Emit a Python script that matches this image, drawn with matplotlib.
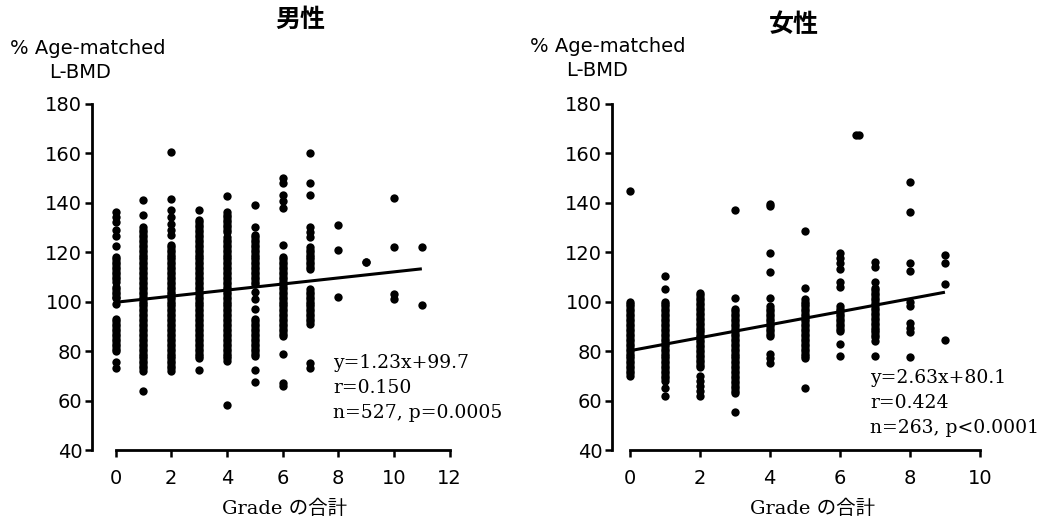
import numpy as np
import matplotlib
matplotlib.use('Agg')
import matplotlib.pyplot as plt

plt.rcParams['font.family'] = ['DejaVu Sans']

W, H = 1061, 532

# ── data: % age-matched L-BMD per Grade total ──
male_grades = [0, 1, 2, 3, 4, 5, 6, 7, 8, 9, 10, 11]
male_bmd = [
    [136, 134, 132, 129, 126.5, 122.5,
     118, 117, 116, 115, 114, 113, 112, 111, 110, 109, 108, 106, 105, 104, 103, 102, 101.5, 99,
     93, 92, 91, 90, 89, 88, 87, 86, 85, 84, 83, 82, 81, 80, 75.5, 73],
    [141, 135,
     130, 129, 128, 127, 126, 125, 124, 123, 122, 121, 120, 119, 118, 117, 116, 115, 114, 113,
     112, 111, 110, 109, 108, 107, 106, 105, 104, 103, 102, 101, 100, 99, 98, 97, 96, 95, 94,
     93, 92, 91, 90, 89, 88, 87, 86, 85, 84, 83, 82, 81, 80, 79, 78, 77, 76, 75, 74, 73, 72, 64],
    [160.5, 141.5, 137, 134, 131.5, 129, 127,
     123, 122, 121, 120, 119, 118, 117, 116, 115, 114, 113, 112, 111, 110, 109, 108, 107, 106,
     105, 104, 103, 102, 101, 100, 99, 98, 97, 96, 95, 94, 93, 92, 91, 90, 89, 88, 87, 86, 85,
     84, 83, 82, 81, 80, 79, 78, 77, 76, 75, 74, 73, 72],
    [137,
     133, 132, 131, 130, 129, 128, 127, 126, 125, 124, 123, 122, 121, 120, 119, 118, 117, 116,
     115, 114, 113, 112, 111, 110, 109, 108, 107, 106, 105, 104, 103, 102, 101, 100, 99, 98, 97,
     96, 95, 94, 93, 92, 91, 90, 89, 88, 87, 86, 85, 84, 83, 82, 81, 80, 79, 78, 77, 72.5],
    [142.5, 136, 135, 134, 133, 132, 131, 130, 129, 128,
     126, 125, 124, 123, 122, 121, 120, 119, 118, 117, 116, 115, 114, 113, 112, 111, 110, 109,
     108, 107, 106, 105, 104, 103, 102, 101, 100, 99, 98, 97, 96, 95, 94, 93, 92, 91, 90, 89,
     88, 87, 86, 85, 84, 83, 82, 81, 80, 79, 78, 77, 76, 58],
    [139, 130,
     127, 126, 125, 124, 123, 122, 121, 120, 119, 118, 117, 116, 115, 114, 113, 112, 111, 110,
     109, 108, 107, 104, 101, 97,
     93, 92, 91, 90, 89, 88, 87, 86, 85, 84, 83, 82, 81, 80, 79, 78, 72.5, 67.5],
    [150, 148, 143, 140.5, 138, 123,
     118, 117, 116, 115, 114, 113, 112, 111, 110, 109, 108, 107, 106, 105, 104, 103, 102, 101,
     100, 99, 98, 97, 96, 95, 94, 93, 92, 91, 90, 89, 88, 87, 86, 79, 67, 66],
    [160, 148, 143, 130, 128, 126,
     122, 121, 120, 119, 118, 117, 116, 115, 114, 113,
     105, 104, 103, 102, 101, 100, 99, 98, 97, 96, 95, 94, 93, 92, 91, 75, 73],
    [131, 121, 102],
    [116, 116],
    [142, 122, 103, 101],
    [122, 98.5],
]

female_grades = [0, 1, 2, 3, 4, 5, 6, 7, 8, 9]
female_bmd = [
    [144.5,
     100, 99, 98, 97, 96, 95, 94, 93, 92, 91, 90, 89, 88, 87, 86, 85, 84, 83, 82, 81, 80, 79,
     78, 77, 76, 75, 74, 73, 72, 71, 70],
    [110.5, 105,
     100, 99, 98, 97, 96, 95, 94, 93, 92, 91, 90, 89, 88, 87, 86, 85, 84, 83, 82, 81, 80, 79,
     78, 77, 76, 75, 74, 73, 72, 71, 70, 69, 68, 65, 62],
    [103.5, 102.5, 101.5, 100.5, 99.5, 98.5, 97.5, 96.5, 95.5, 94.5, 93.5, 92.5, 91.5, 90.5,
     89.5, 88.5, 87.5, 86.5, 85.5, 84.5, 83.5, 82.5, 81.5, 80.5, 79.5, 78.5, 77.5, 76.5, 75.5,
     74.5, 73.5, 70, 68, 66, 64, 62],
    [137, 101.5,
     97, 96, 95, 94, 93, 92, 91, 90, 89, 88, 87, 86, 85, 84, 83, 82, 81, 80, 79, 78, 77, 76,
     75, 74, 73, 72, 71, 70, 69, 68, 67, 66, 65, 64, 63, 55.5],
    [139.5, 138.5, 119.5, 112, 101.5,
     98, 97, 96, 95, 94, 93, 92, 91, 90, 89, 88, 87, 86, 79, 77, 75],
    [128.5, 105.5,
     101, 100, 99, 98, 97, 96, 95, 94, 93, 92, 91, 90, 89, 88, 87, 86, 85, 84, 83, 82, 81, 80,
     79, 78, 77, 65],
    [119.5, 117.5, 115.5, 113, 108, 106,
     98, 97, 96, 95, 94, 93, 92, 91, 90, 89, 88, 83, 78],
    [116, 114, 108,
     105.5, 104.5, 103.5, 102.5, 101.5, 100.5, 99.5, 98.5, 97.5, 96.5, 95.5, 94.5, 93.5, 92.5,
     91.5, 90.5, 89.5, 88.5, 87.5, 86.5, 85.5, 84, 78],
    [148.5, 136, 115.5, 112.5, 100, 98, 91.5, 89.5, 87.5, 77.5],
    [119, 115.5, 107, 84.5],
]
female_extra_x = [6.45, 6.55]
female_extra_y = [167.5, 167.5]

male_fit = (1.23, 99.7)
female_fit = (2.63, 80.1)
male_stats = ['y=1.23x+99.7', 'r=0.150', 'n=527, p=0.0005']
female_stats = ['y=2.63x+80.1', 'r=0.424', 'n=263, p<0.0001']

fig = plt.figure(figsize=(W / 100, H / 100), dpi=100)


def px_text(x, y, s, **kw):
    fig.text(x / W, 1 - y / H, s, **kw)


def make_axes(left_px, right_px, xmin, xmax, xticks):
    ax = fig.add_axes([left_px / W, (H - 450) / H, (right_px - left_px) / W, (450 - 103.6) / H])
    ax.set_xlim(xmin, xmax)
    ax.set_ylim(40, 180)
    ax.spines['top'].set_visible(False)
    ax.spines['right'].set_visible(False)
    ax.spines['left'].set_linewidth(2)
    ax.spines['bottom'].set_linewidth(2)
    ax.spines['bottom'].set_bounds(0, xticks[-1])
    ax.set_yticks(range(40, 181, 20))
    ax.set_xticks(xticks)
    ax.tick_params(axis='y', length=5, width=1.8, pad=2, labelsize=14)
    ax.tick_params(axis='x', length=5, width=1.8, pad=9, labelsize=14)
    return ax


def draw_panel(ax, grades, bmd, fit, xmax_fit):
    for g, vals in zip(grades, bmd):
        ax.plot([g] * len(vals), vals, 'o', color='black', ms=6, mew=0, clip_on=False)
    xs = np.array([0, xmax_fit])
    ax.plot(xs, fit[0] * xs + fit[1], color='black', lw=2.2, solid_capstyle='butt')


ax1 = make_axes(92, 449.7, -0.844, 12, [0, 2, 4, 6, 8, 10, 12])
draw_panel(ax1, male_grades, male_bmd, male_fit, 11)

ax2 = make_axes(612, 980, -0.5, 10, [0, 2, 4, 6, 8, 10])
draw_panel(ax2, female_grades, female_bmd, female_fit, 9)
ax2.plot(female_extra_x, female_extra_y, 'o', color='black', ms=6, mew=0, clip_on=False)

# titles
cjk = ['Noto Sans CJK JP', 'DejaVu Sans']
px_text(300, 20, '男性', family=cjk, fontsize=18, fontweight='bold', ha='center', va='center')
px_text(794, 25, '女性', family=cjk, fontsize=18, fontweight='bold', ha='center', va='center')

# y labels
for cx1, cx2, y1 in [(88, 80, 49), (608, 597, 47)]:
    px_text(cx1, y1, '% Age-matched', fontsize=14, ha='center', va='center')
    px_text(cx2, y1 + 23, 'L-BMD', fontsize=14, ha='center', va='center')

# x labels
serif_cjk = ['DejaVu Serif', 'Noto Sans CJK JP']
px_text(285, 509, 'Grade の合計', family=serif_cjk, fontsize=14, ha='center', va='center')
px_text(813, 509, 'Grade の合計', family=serif_cjk, fontsize=14, ha='center', va='center')

# statistics
for i, s in enumerate(male_stats):
    px_text(333, 363 + 25 * i, s, family='DejaVu Serif', fontsize=13.5, ha='left', va='center')
for i, s in enumerate(female_stats):
    px_text(870, 378 + 25 * i, s, family='DejaVu Serif', fontsize=13.5, ha='left', va='center')

fig.savefig('out.png', dpi=100)
